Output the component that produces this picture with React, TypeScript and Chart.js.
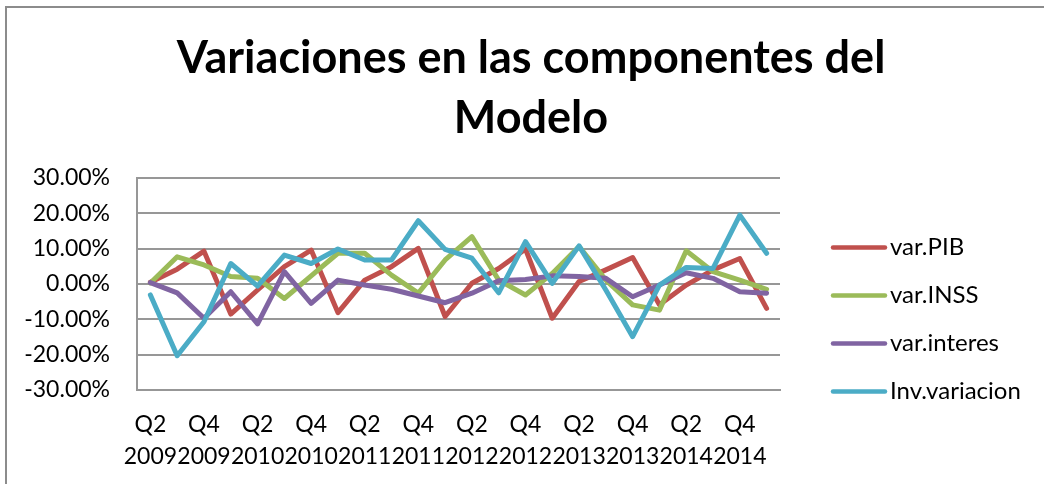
import React, { useEffect, useRef } from 'react';
import { Chart, registerables } from 'chart.js';

Chart.register(...registerables);

const categories = [
  'Q2 2009', 'Q3 2009', 'Q4 2009', 'Q1 2010', 'Q2 2010', 'Q3 2010', 'Q4 2010', 'Q1 2011',
  'Q2 2011', 'Q3 2011', 'Q4 2011', 'Q1 2012', 'Q2 2012', 'Q3 2012', 'Q4 2012', 'Q1 2013',
  'Q2 2013', 'Q3 2013', 'Q4 2013', 'Q1 2014', 'Q2 2014', 'Q3 2014', 'Q4 2014', 'Q1 2015',
];

const varPIB = [0.5, 4.2, 9.3, -8.5, -1.7, 4.9, 9.6, -8.1, 1.1, 4.9, 10.1, -9.2, 0.2, 4.4, 9.9, -9.7, 0.7, 4.0, 7.5, -5.9, -0.3, 4.0, 7.2, -6.9];
const varINSS = [0.3, 7.7, 5.4, 2.1, 1.6, -4.1, 2.3, 8.7, 8.7, 2.5, -2.6, 6.8, 13.4, 1.1, -3.1, 3.0, 10.6, 1.1, -5.9, -7.4, 9.4, 3.5, 1.1, -1.5];
const varInteres = [0.4, -2.5, -9.7, -2.2, -11.3, 3.5, -5.5, 1.1, -0.3, -1.5, -3.4, -5.3, -2.6, 0.9, 1.3, 2.3, 2.1, 1.6, -3.6, -0.3, 3.2, 1.6, -2.2, -2.6];
const invVariacion = [-3.1, -20.3, -10.7, 5.8, -0.6, 8.2, 5.8, 9.9, 6.8, 6.8, 17.9, 9.8, 7.3, -2.5, 12.0, 0.2, 10.8, -1.7, -14.9, -0.3, 4.7, 4.4, 19.5, 8.7];

const seriesNames = ['var.PIB', 'var.INSS', 'var.interes', 'Inv.variacion'];
const seriesColors = ['#C0504D', '#9BBB59', '#8064A2', '#4BACC6'];
const titleLines = ['Variaciones en las componentes del', 'Modelo'];
const yMin = -30;
const yMax = 30;
const yStep = 10;

const FONT = 'Lato, "Open Sans", sans-serif';
const W = 1044;
const H = 484;
const CANVAS_W = 1062;

export default function App() {
  const ref = useRef<HTMLCanvasElement | null>(null);

  useEffect(() => {
    if (!ref.current) return;

    const bgPlugin = {
      id: 'bgBorder',
      beforeDraw(chart: any) {
        const c = chart.ctx;
        c.save();
        c.fillStyle = '#ffffff';
        c.fillRect(0, 0, chart.width, chart.height);
        c.strokeStyle = '#8c8c8c';
        c.lineWidth = 2;
        c.beginPath();
        c.moveTo(6, chart.height + 5);
        c.lineTo(6, 7);
        c.lineTo(chart.width + 5, 7);
        c.stroke();
        c.restore();
      },
    };

    // Legend drawn beside the plot area, one row per dataset
    const legendPlugin = {
      id: 'sideLegend',
      afterDraw(chart: any) {
        const c = chart.ctx;
        const area = chart.chartArea;
        const x0 = area.right + 51;
        const lineLen = 56;
        const rowH = 48;
        const n = chart.data.datasets.length;
        const mid = 319.5;
        const y0 = mid - ((n - 1) * rowH) / 2;
        c.save();
        chart.data.datasets.forEach((ds: any, i: number) => {
          const y = y0 + i * rowH;
          c.strokeStyle = ds.borderColor;
          c.lineWidth = 4.5;
          c.lineCap = 'round';
          c.beginPath();
          c.moveTo(x0 + 2, y);
          c.lineTo(x0 + lineLen - 2, y);
          c.stroke();
          c.fillStyle = '#000';
          c.font = `normal 24px ${FONT}`;
          c.textAlign = 'left';
          c.textBaseline = 'middle';
          c.fillText(ds.label, x0 + lineLen + 3, y);
        });
        c.restore();
      },
    };

    const series = [varPIB, varINSS, varInteres, invVariacion];
    const chart = new Chart(ref.current, {
      type: 'line',
      data: {
        labels: categories,
        datasets: series.map((d, i) => ({
          label: seriesNames[i],
          data: d,
          borderColor: seriesColors[i],
          backgroundColor: seriesColors[i],
          borderWidth: 5,
          pointRadius: 0,
          pointHoverRadius: 0,
          tension: 0,
          fill: false,
          borderJoinStyle: 'round',
          borderCapStyle: 'round',
          order: 3 - i,
        })),
      },
      options: {
        animation: false,
        responsive: false,
        devicePixelRatio: 1,
        layout: { padding: 0 },
        font: { family: FONT },
        plugins: {
          title: {
            display: true,
            text: titleLines,
            color: '#000',
            font: { family: FONT, size: 45, weight: 'bold', lineHeight: '60px' },
            padding: { top: 28, bottom: 30 },
          },
          legend: { display: false },
          tooltip: { enabled: false },
        },
        scales: {
          x: {
            type: 'category',
            offset: true,
            grid: { display: false, drawTicks: false },
            border: { display: true, color: '#979797', width: 2 },
            ticks: {
              autoSkip: false,
              maxRotation: 0,
              minRotation: 0,
              padding: 19,
              color: '#000',
              font: { family: FONT, size: 23, lineHeight: '32px' },
              callback: (_v: any, i: number) => (i % 2 === 0 ? categories[i].split(' ') : ''),
            },
            afterFit: (s: any) => {
              s.height = 94;
            },
          },
          y: {
            min: yMin,
            max: yMax,
            position: 'left',
            grid: { display: true, color: '#979797', lineWidth: 2, drawTicks: false },
            border: { display: true, color: '#979797', width: 2 },
            ticks: {
              stepSize: yStep,
              padding: 27,
              color: '#000',
              font: { family: FONT, size: 23 },
              callback: (v: any) => Number(v).toFixed(2) + '%',
            },
            afterFit: (s: any) => {
              s.width = 137;
            },
          },
          legendSpace: {
            type: 'linear',
            position: 'right',
            display: true,
            grid: { display: false, drawTicks: false },
            border: { display: false },
            ticks: { display: false },
            afterFit: (s: any) => {
              s.width = CANVAS_W - 780;
            },
          },
        },
      },
      plugins: [bgPlugin, legendPlugin],
    } as any);
    return () => chart.destroy();
  }, []);

  return (
    <div style={{ position: 'fixed', left: 0, top: 0, width: W, height: H, overflow: 'hidden', background: '#fff' }}>
      <canvas ref={ref} width={CANVAS_W} height={H} style={{ display: 'block', width: CANVAS_W, height: H }} />
    </div>
  );
}
